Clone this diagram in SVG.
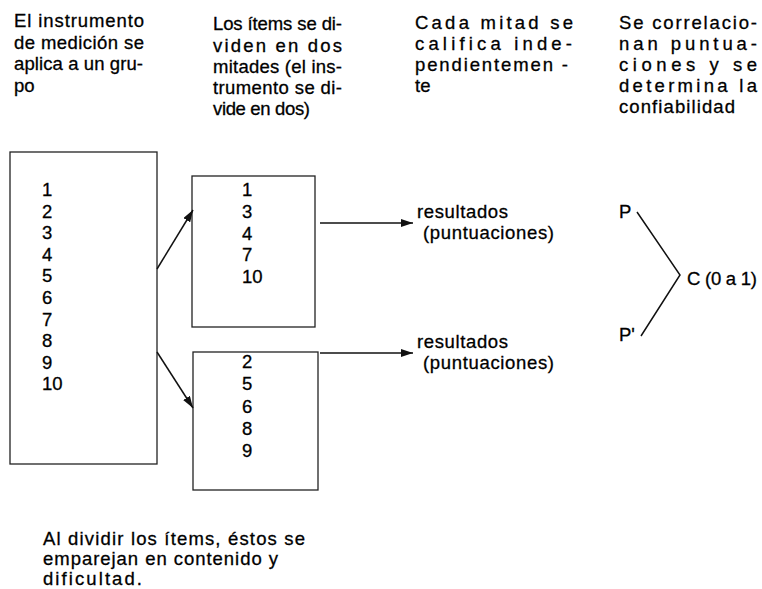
<svg xmlns="http://www.w3.org/2000/svg" width="762" height="589" viewBox="0 0 762 589">
<style>
text{font-family:"Liberation Sans",Arial,sans-serif;font-size:18.5px;fill:#000;stroke:#000;stroke-width:0.3}
.box{fill:none;stroke:#222;stroke-width:1.3}
.ln{fill:none;stroke:#111;stroke-width:1.5}
</style>
<defs>
<marker id="ah" viewBox="0 0 12 8" refX="12" refY="4" markerWidth="12" markerHeight="8" markerUnits="userSpaceOnUse" orient="auto">
<path d="M0,0 L12,4 L0,8 Z" fill="#111"/>
</marker>
</defs>
<rect width="762" height="589" fill="#fff"/>
<g id="header1">
<text x="14" y="27" textLength="130" lengthAdjust="spacing">El instrumento</text>
<text x="14" y="49" textLength="130" lengthAdjust="spacing">de medición se</text>
<text x="14" y="70" textLength="129" lengthAdjust="spacing">aplica a un gru-</text>
<text x="14" y="92">po</text>
</g>
<g id="header2">
<text x="213" y="30" textLength="129" lengthAdjust="spacing">Los ítems se di-</text>
<text x="213" y="52" textLength="129" lengthAdjust="spacing">viden en dos</text>
<text x="213" y="73" textLength="129" lengthAdjust="spacing">mitades (el ins-</text>
<text x="213" y="94" textLength="129" lengthAdjust="spacing">trumento se di-</text>
<text x="213" y="115" textLength="97" lengthAdjust="spacing">vide en dos)</text>
</g>
<g id="header3">
<text x="415" y="29" textLength="158" lengthAdjust="spacing">Cada mitad se</text>
<text x="415" y="50" textLength="157" lengthAdjust="spacing">califica inde-</text>
<text x="415" y="71" textLength="153" lengthAdjust="spacing">pendientemen -</text>
<text x="415" y="92">te</text>
</g>
<g id="header4">
<text x="619" y="29" textLength="138" lengthAdjust="spacing">Se correlacio-</text>
<text x="619" y="50" textLength="138" lengthAdjust="spacing">nan puntua-</text>
<text x="619" y="71" textLength="138" lengthAdjust="spacing">ciones y se</text>
<text x="619" y="92" textLength="138" lengthAdjust="spacing">determina la</text>
<text x="619" y="113" textLength="116" lengthAdjust="spacing">confiabilidad</text>
</g>
<g id="instrumento">
<rect class="box" x="10" y="152" width="147" height="312"/>
<text x="42" y="196">1</text>
<text x="42" y="217.6">2</text>
<text x="42" y="239.2">3</text>
<text x="42" y="260.8">4</text>
<text x="42" y="282.4">5</text>
<text x="42" y="304">6</text>
<text x="42" y="325.6">7</text>
<text x="42" y="347.2">8</text>
<text x="42" y="368.8">9</text>
<text x="42" y="390.4">10</text>
</g>
<g id="mitad1">
<rect class="box" x="192" y="176" width="123" height="151"/>
<text x="242" y="196">1</text>
<text x="242" y="217.75">3</text>
<text x="242" y="239.5">4</text>
<text x="242" y="261.25">7</text>
<text x="242" y="283">10</text>
</g>
<g id="mitad2">
<rect class="box" x="193" y="352" width="125" height="138"/>
<text x="242" y="368">2</text>
<text x="242" y="390.25">5</text>
<text x="242" y="412.5">6</text>
<text x="242" y="434.75">8</text>
<text x="242" y="457">9</text>
</g>
<g id="resultados1">
<text x="417" y="218" textLength="91" lengthAdjust="spacing">resultados</text>
<text x="423" y="239" textLength="131" lengthAdjust="spacing">(puntuaciones)</text>
</g>
<g id="resultados2">
<text x="417" y="348" textLength="91" lengthAdjust="spacing">resultados</text>
<text x="423" y="369" textLength="131" lengthAdjust="spacing">(puntuaciones)</text>
</g>
<g id="correlacion">
<text x="619" y="218">P</text>
<text x="619" y="341">P'</text>
<text x="687" y="285" textLength="70" lengthAdjust="spacing">C (0 a 1)</text>
</g>
<g id="nota">
<text x="43" y="545" textLength="262" lengthAdjust="spacing">Al dividir los ítems, éstos se</text>
<text x="43" y="565" textLength="235" lengthAdjust="spacing">emparejan en contenido y</text>
<text x="43" y="585" textLength="99" lengthAdjust="spacing">dificultad.</text>
</g>
<g id="connectors">
<line class="ln" x1="157" y1="269" x2="193" y2="210" marker-end="url(#ah)"/>
<line class="ln" x1="157" y1="352" x2="193" y2="408" marker-end="url(#ah)"/>
<line class="ln" x1="320" y1="223" x2="413" y2="223" marker-end="url(#ah)"/>
<line class="ln" x1="320" y1="353" x2="413" y2="353" marker-end="url(#ah)"/>
<polyline class="ln" points="637,212 680,275 641,336"/>
</g>
</svg>
